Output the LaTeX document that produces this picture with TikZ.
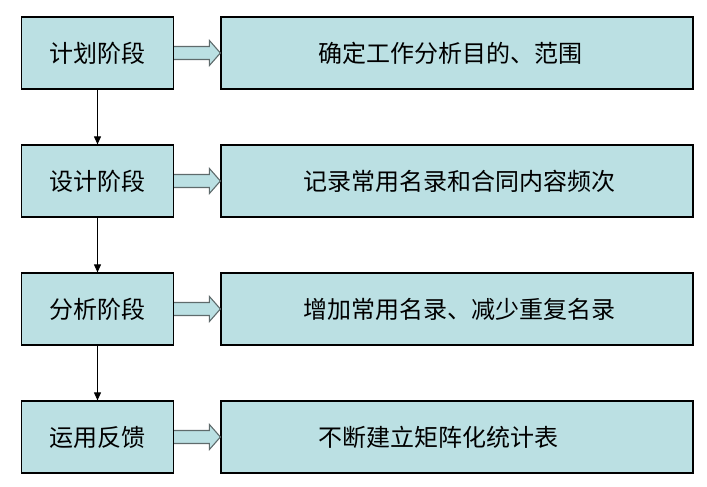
\documentclass[tikz,border=0pt]{standalone}
\usepackage{fontspec}
\setmainfont{Noto Sans CJK SC}
\usetikzlibrary{arrows.meta,calc}
\definecolor{boxfill}{HTML}{BBE0E3}
\definecolor{arrowedge}{HTML}{5F6B6C}
\begin{document}
\begin{tikzpicture}[x=1pt,y=-1pt,
  lbox/.style={draw=black,line width=1.2pt,fill=boxfill,minimum width=152pt,minimum height=72pt,inner sep=0pt,font=\fontsize{24}{28}\selectfont},
  rbox/.style={draw=black,line width=1.2pt,fill=boxfill,minimum width=472pt,minimum height=72pt,inner sep=0pt},
  rtext/.style={anchor=west,inner sep=0pt,font=\fontsize{24}{28}\selectfont},
  vconn/.style={draw=black,line width=0.9pt,-{Triangle[length=8pt,width=7pt]}},
  barrow/.style={draw=arrowedge,line width=1.1pt,fill=boxfill,line join=miter}]
\useasboundingbox (0,0) rectangle (707,487);
\node[lbox] (L1) at (97.5,53) {计划阶段};
\node[lbox] (L2) at (97.5,181) {设计阶段};
\node[lbox] (L3) at (97.5,309) {分析阶段};
\node[lbox] (L4) at (97.5,437) {运用反馈};
\node[rbox] (R1) at (457,53) {};
\node[rbox] (R2) at (457,181) {};
\node[rbox] (R3) at (457,309) {};
\node[rbox] (R4) at (457,437) {};
\node[rtext] (T1) at (318,53) {确定工作分析目的、范围};
\node[rtext] (T2) at (303,181) {记录常用名录和合同内容频次};
\node[rtext] (T3) at (303,309) {增加常用名录、减少重复名录};
\node[rtext] (T4) at (318,437) {不断建立矩阵化统计表};
\foreach \i in {1,2,3,4}{
  \draw[barrow] ($(L\i.east)+(0,-6.5)$) -- ($(R\i.west)+(-11,-6.5)$) -- ($(R\i.west)+(-11,-12.5)$) -- (R\i.west) -- ($(R\i.west)+(-11,12.5)$) -- ($(R\i.west)+(-11,6.5)$) -- ($(L\i.east)+(0,6.5)$);
}
\draw[vconn] (L1.south) -- (L2.north);
\draw[vconn] (L2.south) -- (L3.north);
\draw[vconn] (L3.south) -- (L4.north);
\end{tikzpicture}
\end{document}
